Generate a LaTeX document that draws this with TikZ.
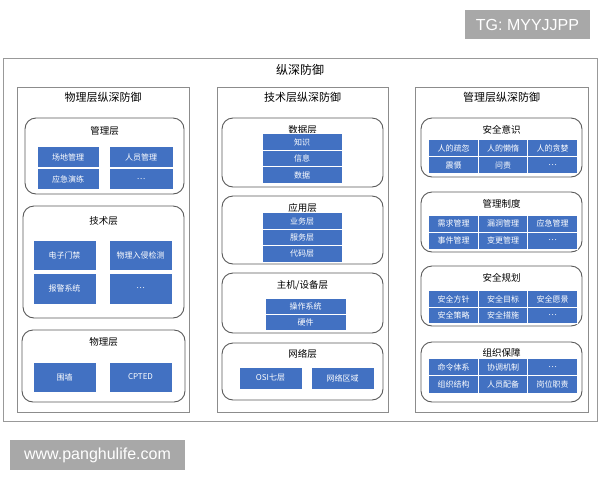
\documentclass[tikz,border=0pt]{standalone}
\usepackage{fontspec}
\usepackage{xcolor}
\usepackage{tikz}
\setmainfont{Noto Sans CJK SC}
\newfontfamily\wmfont{Liberation Sans}

\definecolor{cellblue}{RGB}{66,113,194}
\definecolor{wmgray}{RGB}{168,168,168}

\tikzset{
  outerframe/.style={draw=black!40, line width=1pt},
  colframe/.style={draw=black!45, line width=0.8pt},
  layerbox/.style={draw=black!65, line width=0.9pt, rounded corners=11pt},
  maintitle/.style={font=\fontsize{12}{14}\selectfont},
  coltitle/.style={font=\fontsize{11}{13}\selectfont},
  layertitle/.style={font=\fontsize{9.5}{11}\selectfont},
  cell/.style={fill=cellblue, draw=white, line width=1pt, text=white,
    inner sep=0pt, font=\fontsize{8}{9}\selectfont},
  wide cell/.style={cell, minimum width=63, minimum height=30},
  flat cell/.style={cell, minimum width=63, minimum height=22},
  stack cell/.style={cell, minimum width=80, minimum height=16.5},
  grid cell/.style={cell, minimum width=49.5, minimum height=17},
  watermark/.style={fill=wmgray, text=white, inner sep=0pt, font=\wmfont\fontsize{16}{18}\selectfont}
}

\begin{document}
\begin{tikzpicture}[x=1pt, y=-1pt]
    \useasboundingbox (0,0) rectangle (600,480);

    % Filigranes
    \node[watermark, minimum width=125, minimum height=29] (tg) at (527.5,24.5) {TG: MYYJJPP};
    \node[watermark, minimum width=175, minimum height=30] (site) at (97.5,455) {www.panghulife.com};

    % Cadre general
    \draw[outerframe] (3,58) rectangle (597,421);
    \node[maintitle] (main) at (300,70) {纵深防御};

    % Colonnes
    \draw[colframe] (17,87) rectangle (189,412);
    \draw[colframe] (217,87) rectangle (388,412);
    \draw[colframe] (415,87) rectangle (588,412);
    \node[coltitle] (phy) at (103,97) {物理层纵深防御};
    \node[coltitle] (tech) at (302.5,97) {技术层纵深防御};
    \node[coltitle] (mgmt) at (501.5,97) {管理层纵深防御};

    %物理层纵深防御
    \draw[layerbox] (25,118) rectangle (184,194);
    \node[layertitle] (phymgmt) at (104.5,131) {管理层};
    \node[cell, minimum width=62, minimum height=21] (p1) at (68,157) {场地管理};
    \node[cell, minimum width=64, minimum height=21] (p2) at (141,157) {人员管理};
    \node[cell, minimum width=62, minimum height=21] (p3) at (68,179) {应急演练};
    \node[cell, minimum width=64, minimum height=21] (p4) at (141,179) {…};

    \draw[layerbox] (23,206) rectangle (184,318);
    \node[layertitle] (phytech) at (103.5,221) {技术层};
    \node[wide cell] (p5) at (64.5,255) {电子门禁};
    \node[wide cell] (p6) at (140.5,255) {物理入侵检测};
    \node[wide cell, minimum height=31] (p7) at (64.5,288.5) {报警系统};
    \node[wide cell, minimum height=31] (p8) at (140.5,288.5) {…};

    \draw[layerbox] (22,330) rectangle (185,402);
    \node[layertitle] (phyphy) at (103.5,342) {物理层};
    \node[wide cell] (p9) at (64.5,377) {围墙};
    \node[wide cell] (p10) at (140.5,377) {CPTED};

    % 技术层纵深防御
    \draw[layerbox] (222,118) rectangle (383,187);
    \node[layertitle] (data) at (302.5,130) {数据层};
    \node[stack cell] (t1) at (302,142) {知识};
    \node[stack cell] (t2) at (302,158.5) {信息};
    \node[stack cell] (t3) at (302,175) {数据};

    \draw[layerbox] (222,196) rectangle (383,264);
    \node[layertitle] (app) at (302.5,208) {应用层};
    \node[stack cell] (t4) at (302,221) {业务层};
    \node[stack cell] (t5) at (302,237.5) {服务层};
    \node[stack cell] (t6) at (302,254) {代码层};

    \draw[layerbox] (222,273) rectangle (383,333);
    \node[layertitle] (host) at (302.5,285) {主机/设备层};
    \node[stack cell, minimum width=81, minimum height=16] (t7) at (305.5,306) {操作系统};
    \node[stack cell, minimum width=81, minimum height=16] (t8) at (305.5,322) {硬件};

    \draw[layerbox] (222,343) rectangle (383,400);
    \node[layertitle] (net) at (302.5,354) {网络层};
    \node[flat cell] (t9) at (270.5,378) {OSI七层};
    \node[flat cell] (t10) at (342.5,378) {网络区域};

    % 管理层纵深防御
    \draw[layerbox] (421,118) rectangle (582,177);
    \node[layertitle] (aware) at (501.5,130) {安全意识};
    \foreach \txt [count=\i from 0] in {人的疏忽,人的懒惰,人的贪婪,震慑,问责,{…}} {
        \pgfmathsetmacro\cx{453.5+49.5*mod(\i,3)}
        \pgfmathsetmacro\cy{148+17*int(\i/3)}
        \node[grid cell] (aw\i) at (\cx,\cy) {\txt};
    }

    \draw[layerbox] (421,192) rectangle (582,252);
    \node[layertitle] (rules) at (501.5,204) {管理制度};
    \foreach \txt [count=\i from 0] in {需求管理,漏洞管理,应急管理,事件管理,变更管理,{…}} {
        \pgfmathsetmacro\cx{453.5+49.5*mod(\i,3)}
        \pgfmathsetmacro\cy{223.5+17*int(\i/3)}
        \node[grid cell] (ru\i) at (\cx,\cy) {\txt};
    }

    \draw[layerbox] (421,266) rectangle (582,326);
    \node[layertitle] (plan) at (501.5,278) {安全规划};
    \foreach \txt [count=\i from 0] in {安全方针,安全目标,安全愿景,安全策略,安全措施,{…}} {
        \pgfmathsetmacro\cx{453.5+49.5*mod(\i,3)}
        \pgfmathsetmacro\cy{299+16.5*int(\i/3)}
        \node[grid cell, minimum height=16.5] (pl\i) at (\cx,\cy) {\txt};
    }

    \draw[layerbox] (421,342) rectangle (582,402);
    \node[layertitle] (org) at (501.5,353) {组织保障};
    \foreach \txt [count=\i from 0] in {命令体系,协调机制,{…},组织结构,人员配备,岗位职责} {
        \pgfmathsetmacro\cx{453.5+49.5*mod(\i,3)}
        \pgfmathsetmacro\cy{367+17.5*int(\i/3)}
        \node[grid cell, minimum height=17.5] (or\i) at (\cx,\cy) {\txt};
    }
\end{tikzpicture}
\end{document}
